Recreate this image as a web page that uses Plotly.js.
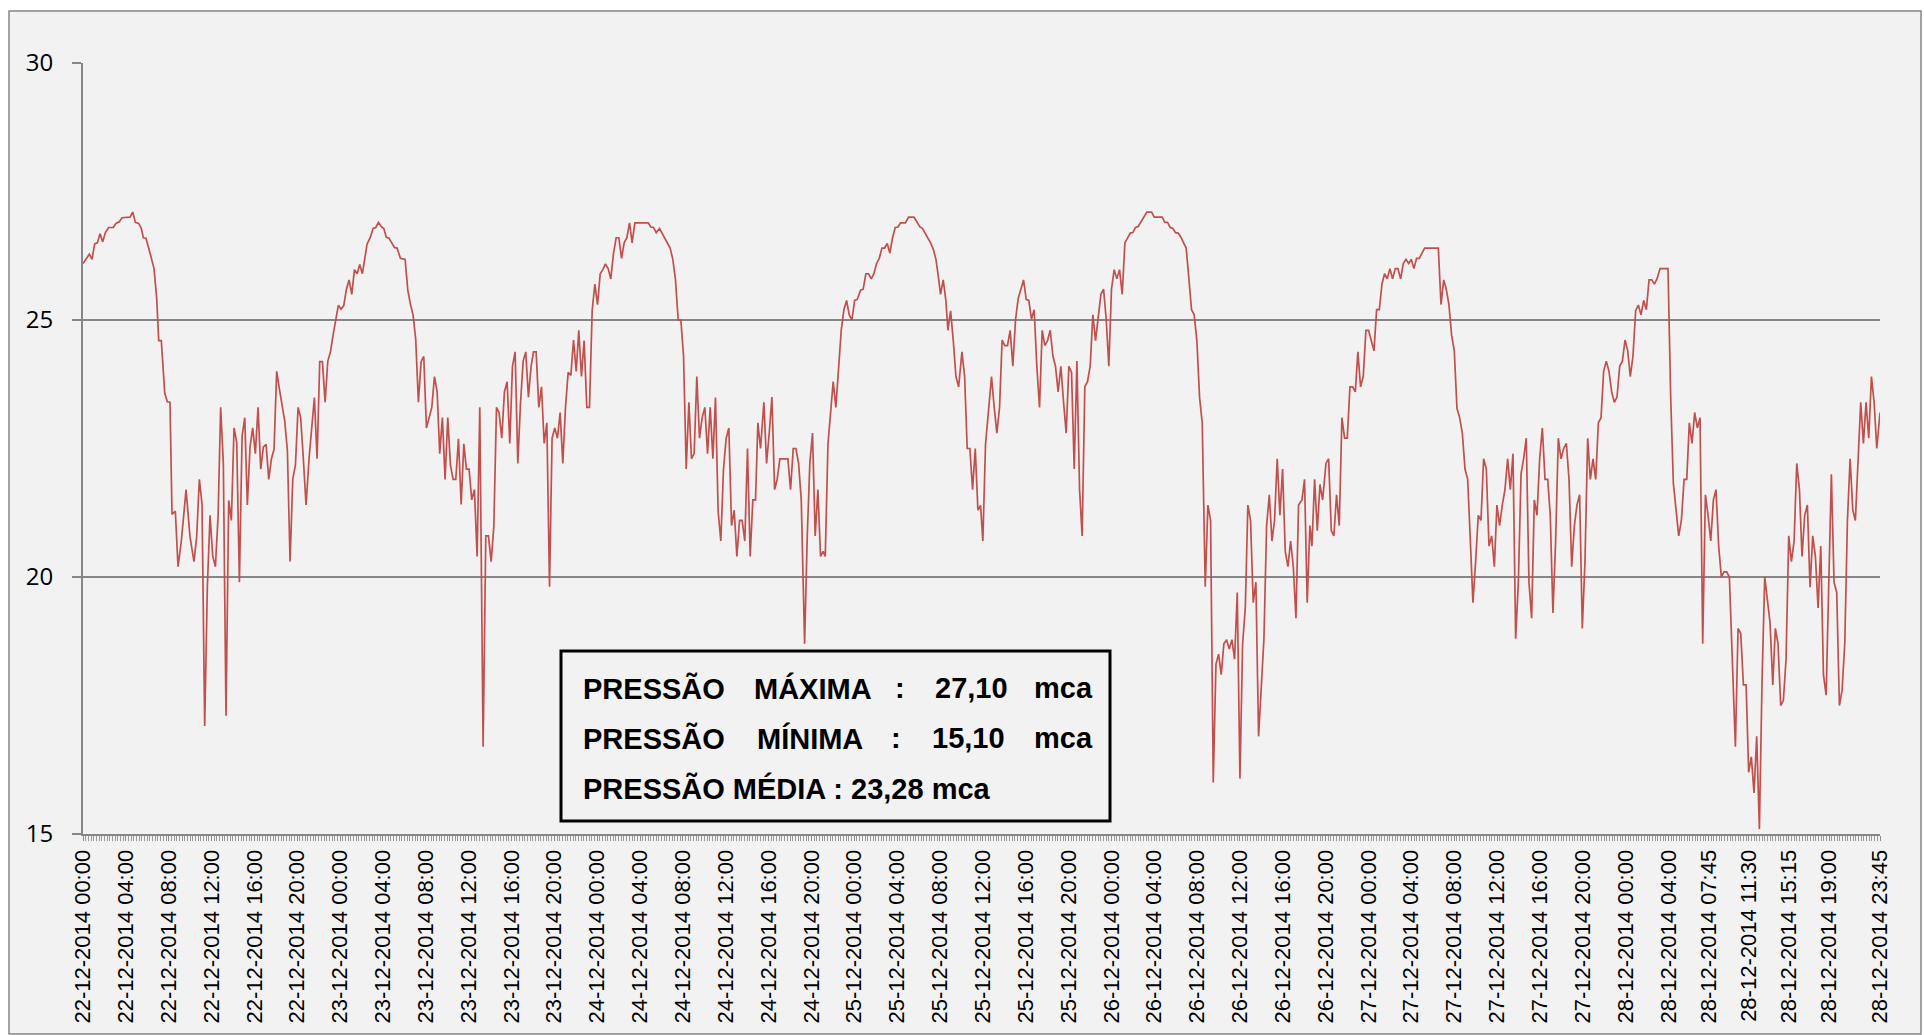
<!DOCTYPE html>
<html>
<head>
<meta charset="utf-8">
<script src="https://cdn.plot.ly/plotly-3.0.1.min.js"></script>
<style>
html,body{margin:0;padding:0;background:#ffffff;}
#chart{width:1924px;height:1035px;}
</style>
</head>
<body>
<div id="chart"></div>
<script>
// hours since 22-12-2014 00:00
const horas = [
0,0.59,0.84,1.09,1.34,1.59,1.84,2.09,2.40,2.83,3.08,3.39,3.64,4.39,4.64,4.89,5.20,5.45,5.63,5.88,
6.26,6.63,6.88,7.07,7.31,7.63,7.87,8.12,8.31,8.62,8.87,9.18,9.62,9.99,10.36,10.61,10.86,11.11,11.36,11.61,
11.86,12.11,12.36,12.61,12.85,13.10,13.35,13.60,13.85,14.10,14.35,14.60,14.85,15.10,15.34,15.59,15.84,16.09,16.34,16.59,
16.84,17.09,17.34,17.59,17.83,18.08,18.33,18.83,19.08,19.33,19.58,19.83,20.08,20.32,20.57,20.82,
21.10,21.35,21.60,21.85,22.10,22.35,22.60,22.85,23.10,23.34,23.59,23.84,24.09,24.34,24.59,24.84,25.09,25.34,25.59,25.83,
26.08,26.33,26.52,26.83,27.08,27.33,27.58,27.83,28.08,28.32,28.57,28.82,29.07,29.32,29.63,30.07,30.32,30.57,30.81,31.06,
31.31,31.56,31.81,32.06,32.31,32.56,32.81,33.06,33.30,33.55,33.80,34.05,34.30,34.55,34.80,35.05,35.30,35.55,35.79,36.04,
36.29,36.54,36.79,37.04,37.35,37.60,37.85,38.10,38.35,38.60,38.84,39.09,39.34,39.59,39.84,40.09,40.34,40.59,40.84,41.09,
41.33,41.58,41.83,
42.05,42.30,42.55,42.80,43.05,43.30,43.55,43.79,44.04,44.29,44.54,44.79,45.04,45.29,45.54,45.79,46.04,46.28,46.53,46.78,
47.03,47.28,47.53,47.78,48.03,48.28,48.53,48.77,49.02,49.27,49.52,49.77,50.02,50.27,50.52,50.77,51.02,51.26,51.51,52.76,
53.01,53.26,53.51,53.82,54.07,54.31,54.56,54.81,55.06,55.31,55.56,55.81,56.06,56.31,56.56,56.80,57.05,57.30,57.55,57.80,
58.05,58.30,58.55,58.80,59.04,59.29,59.54,59.79,60.04,60.29,60.54,60.79,61.04,61.29,61.53,61.78,62.03,62.28,62.53,62.78,
63.00,63.25,63.56,63.81,64.06,64.31,64.56,64.80,65.05,65.80,66.05,66.30,66.55,66.80,67.05,67.36,67.61,67.85,68.10,68.35,
68.60,68.85,69.10,69.29,69.54,69.78,70.03,70.28,70.53,70.78,71.03,71.28,71.53,71.78,72.03,72.27,72.59,72.83,73.08,73.33,
73.58,73.83,74.08,74.33,74.58,74.83,75.08,75.32,75.57,75.82,76.07,76.32,76.76,77.07,77.57,77.88,78.13,78.37,78.62,78.87,
79.12,79.37,79.62,79.81,80.05,80.30,80.55,80.74,80.99,81.24,81.49,81.74,82.05,82.30,82.54,82.79,83.04,83.29,83.54,83.79,
84.00,84.25,84.56,84.81,85.06,85.31,85.56,85.80,86.05,86.30,86.55,86.80,87.05,87.30,87.55,87.80,88.05,88.29,88.54,88.79,
89.04,89.29,89.54,89.79,90.04,90.29,90.54,90.78,91.03,91.28,91.53,91.78,92.03,92.28,92.53,92.78,93.03,93.27,93.52,93.77,
94.02,94.27,94.52,94.77,95.02,95.27,95.52,95.76,96.01,96.26,96.51,96.76,97.01,97.26,97.51,97.76,98.00,98.25,98.50,98.75,
99.00,99.31,99.75,100.00,100.74,100.99,101.24,101.49,101.74,101.99,102.24,102.49,102.74,102.98,103.23,103.48,103.73,103.98,104.23,104.48,
104.76,105.01,105.26,105.51,105.76,106.01,106.25,106.50,106.75,107.00,107.25,107.50,107.75,108.00,108.25,108.50,108.74,108.99,109.24,109.49,
109.74,109.99,110.24,110.49,110.74,110.99,111.23,111.48,111.73,111.98,112.23,112.48,112.73,112.98,113.23,113.47,113.79,114.03,114.28,114.53,
114.72,114.97,115.22,115.47,115.72,116.03,116.28,116.53,116.77,117.02,117.27,117.52,117.77,118.02,118.27,118.52,118.77,119.01,119.26,119.51,
119.76,120.01,120.26,120.51,120.76,121.01,121.26,121.50,121.75,122.00,122.25,122.50,122.75,123.00,123.25,123.50,123.75,123.99,124.24,124.49,
124.74,125.24,126.52,126.77,127.02,127.26,127.51,127.76,128.01,128.26,128.51,128.76,129.01,129.26,129.51,129.75,130.00,130.25,130.50,130.75,
131.00,131.25,131.50,131.75,131.99,132.24,132.49,132.74,132.99,133.24,133.49,133.74,133.99,134.24,134.48,134.73,134.98,135.23,135.48,135.73,
135.98,136.23,136.48,136.73,136.97,137.22,137.47,137.72,137.97,138.22,138.47,138.72,138.97,139.22,139.46,139.71,139.96,140.21,140.46,140.71,
140.96,141.21,141.46,141.71,141.95,142.20,142.45,142.70,142.95,143.20,143.45,143.70,143.95,144.20,144.44,144.69,144.94,145.19,145.44,145.69,
145.94,146.19,146.44,146.69,146.93,147.22,147.96,148.21,148.46,148.71,148.96,149.21,149.46,149.71,149.95,150.20,150.45,150.70,150.95,151.20,
151.45,151.70,151.95,152.20,152.44,152.69,152.94,153.19,153.44,153.69,153.94,154.25,154.50,154.75,155.00,155.25,155.49,155.74,155.99,156.24,
156.49,156.74,156.99,157.24,157.49,157.74,157.98,158.23,158.48,158.73,158.98,159.23,159.48,159.73,159.98,160.23,160.47,160.72,160.97,161.22,
161.47,161.72,161.97,162.22,162.47,162.72,162.96,163.21,163.46,163.71,163.96,164.21,164.46,164.71,164.96,165.21,165.45,165.70,165.95,166.20,
166.45,166.70,166.95,167.20,167.45,167.75
];

// pressure in mca
const pressao = [
26.1,26.28,26.18,26.48,26.5,26.68,26.52,26.7,26.8,26.8,26.88,26.91,26.99,27.0,27.1,26.9,26.88,26.78,26.6,26.59,
26.3,26.0,25.42,24.6,24.6,23.58,23.41,23.4,21.22,21.28,20.2,20.7,21.7,20.78,20.3,20.78,21.9,21.42,17.1,19.82,
21.2,20.4,20.2,21.18,23.3,22.22,17.3,21.49,21.1,22.9,22.62,19.9,22.74,23.1,21.4,22.53,22.9,22.4,23.3,22.1,
22.53,22.58,21.9,22.3,22.48,24.0,23.66,23.04,22.46,20.3,21.9,22.18,23.3,23.1,22.3,21.4,
22.3,22.94,23.49,22.3,24.19,24.19,23.4,24.2,24.38,24.7,25.01,25.29,25.21,25.28,25.6,25.78,25.5,25.98,25.9,26.08,
25.9,26.29,26.48,26.61,26.78,26.8,26.9,26.82,26.78,26.61,26.59,26.5,26.41,26.4,26.2,26.18,25.58,25.3,25.1,24.62,
23.4,24.19,24.29,22.9,23.1,23.3,23.9,23.6,22.4,23.1,21.9,23.1,22.18,21.9,21.9,22.69,21.41,22.59,22.1,22.1,
21.5,21.7,20.4,23.3,16.7,20.8,20.8,20.3,20.98,23.3,23.2,22.7,23.6,23.8,22.6,24.1,24.38,22.21,23.38,24.2,
24.38,23.5,24.1,
24.38,24.38,23.3,23.7,22.6,23.0,19.81,22.7,22.9,22.7,23.2,22.21,23.3,23.98,23.92,24.61,24.0,24.8,23.9,24.6,
23.3,23.3,25.18,25.7,25.3,25.9,25.98,26.09,26.0,25.8,26.29,26.6,26.6,26.2,26.5,26.6,26.89,26.5,26.89,26.89,
26.81,26.8,26.7,26.78,26.69,26.6,26.5,26.4,26.18,25.78,25.0,25.0,24.3,22.1,23.4,22.3,22.4,23.9,22.7,23.1,
23.3,22.4,23.3,22.3,23.49,21.28,20.7,22.1,22.7,22.9,21.0,21.3,20.4,21.1,21.1,20.7,22.5,20.4,21.5,21.5,
23.0,22.5,23.4,22.21,22.8,23.5,21.7,21.9,22.3,22.3,21.7,22.5,22.5,22.21,21.5,18.7,20.8,22.21,22.8,20.8,
21.7,20.4,20.5,20.4,22.58,23.2,23.8,23.3,24.1,24.8,25.2,25.38,25.1,25.0,25.38,25.4,25.58,25.6,25.9,25.9,
25.8,25.9,26.1,26.2,26.4,26.4,26.49,26.3,26.6,26.8,26.81,26.89,26.89,27.0,27.0,26.89,26.81,26.78,26.69,26.6,
26.5,26.38,26.18,25.9,25.5,25.78,25.38,24.8,25.18,24.6,23.9,23.7,24.38,23.9,22.5,22.5,21.7,22.5,21.3,21.39,
20.7,22.58,23.3,23.9,23.3,22.8,23.3,24.61,24.5,24.5,24.8,24.1,25.0,25.42,25.6,25.78,25.4,25.38,25.02,25.2,
24.1,23.3,24.8,24.5,24.6,24.8,24.3,24.1,23.6,24.1,23.42,22.8,24.1,23.98,22.1,24.2,21.7,20.8,23.7,23.8,
24.1,25.1,24.6,25.0,25.5,25.6,25.0,24.1,25.6,25.98,25.8,25.98,25.5,26.5,26.6,26.69,26.7,26.8,26.82,26.9,
26.99,27.1,27.1,27.0,27.0,26.9,26.9,26.8,26.78,26.7,26.69,26.61,26.5,26.4,25.82,25.2,25.1,24.6,23.5,23.0,
19.81,21.4,21.1,16.0,18.3,18.5,18.1,18.7,18.78,18.6,18.78,18.4,19.7,16.08,18.7,19.4,21.4,21.1,19.5,19.9,
16.9,18.0,18.8,21.0,21.6,20.7,21.1,22.3,21.2,22.1,20.5,20.2,20.7,20.2,19.2,21.4,21.5,21.9,19.5,21.0,
20.6,21.9,20.9,21.8,21.5,22.21,22.3,20.9,20.8,21.6,21.0,23.1,22.7,22.7,23.7,23.7,23.6,24.38,23.7,23.9,
24.8,24.8,24.6,24.4,25.2,25.2,25.7,25.9,25.8,26.0,25.8,26.0,26.0,25.8,26.1,26.18,26.1,26.18,26.0,26.2,
26.2,26.4,26.4,25.3,25.78,25.6,25.3,24.7,24.4,23.28,23.1,22.8,22.1,21.9,20.7,19.5,20.3,21.2,21.1,22.3,
22.1,20.6,20.8,20.2,21.4,21.0,21.4,21.7,22.3,21.7,22.4,18.8,19.9,22.0,22.3,22.7,19.9,19.2,21.5,21.2,
22.3,22.9,21.9,21.9,21.2,19.3,20.7,22.7,22.3,22.5,22.6,21.9,20.2,21.0,21.4,21.6,19.0,20.3,22.7,21.9,
22.3,21.9,23.0,23.1,24.0,24.2,24.0,23.6,23.4,23.5,24.1,24.2,24.61,24.4,23.9,24.3,25.18,25.29,25.1,25.38,
25.2,25.78,25.78,25.7,25.8,26.0,26.0,23.5,21.82,21.3,20.8,21.1,21.9,21.9,23.0,22.6,23.2,22.9,23.1,18.7,
21.6,21.2,20.7,21.5,21.7,20.6,20.0,20.1,20.1,20.0,18.4,16.7,19.0,18.9,17.9,17.9,16.2,16.5,15.8,16.9,
15.1,18.0,20.0,19.5,19.1,17.9,19.0,18.7,17.5,17.6,18.4,20.8,20.3,20.7,22.21,21.7,20.4,21.2,21.4,19.8,
20.8,20.4,19.4,20.6,18.1,17.7,19.82,22.0,19.9,19.7,17.5,17.8,18.7,21.1,22.3,21.3,21.1,22.4,23.4,22.6,
23.4,22.7,23.9,23.4,22.5,23.2
];

const tickHoras = [0,4,8,12,16,20,24,28,32,36,40,44,48,52,56,60,64,68,72,76,80,84,88,92,96,100,104,108,112,116,120,124,128,132,136,140,144,148,151.75,155.5,159.25,163,167.75];
const tickRotulos = [
"22-12-2014 00:00","22-12-2014 04:00","22-12-2014 08:00","22-12-2014 12:00","22-12-2014 16:00","22-12-2014 20:00",
"23-12-2014 00:00","23-12-2014 04:00","23-12-2014 08:00","23-12-2014 12:00","23-12-2014 16:00","23-12-2014 20:00",
"24-12-2014 00:00","24-12-2014 04:00","24-12-2014 08:00","24-12-2014 12:00","24-12-2014 16:00","24-12-2014 20:00",
"25-12-2014 00:00","25-12-2014 04:00","25-12-2014 08:00","25-12-2014 12:00","25-12-2014 16:00","25-12-2014 20:00",
"26-12-2014 00:00","26-12-2014 04:00","26-12-2014 08:00","26-12-2014 12:00","26-12-2014 16:00","26-12-2014 20:00",
"27-12-2014 00:00","27-12-2014 04:00","27-12-2014 08:00","27-12-2014 12:00","27-12-2014 16:00","27-12-2014 20:00",
"28-12-2014 00:00","28-12-2014 04:00","28-12-2014 07:45","28-12-2014 11:30","28-12-2014 15:15","28-12-2014 19:00","28-12-2014 23:45"
];
const yTicks = [15,20,25,30];

const rotuloPressao = "PRESSÃO";
const rotulosResumo = ["MÁXIMA","MÍNIMA","MÉDIA"];
const valoresResumo = ["27,10","15,10","23,28"];
const unidade = "mca";

// geometry helpers (pixel -> paper)
const L = 83, R = 1880, T = 63, B = 834;
const px = x => (x - L) / (R - L);
const py = y => (B - y) / (B - T);

const boldFont = {family: "Liberation Sans, Arial, sans-serif", size: 29, color: "#000", weight: "bold"};
function ann(text, x, y, anchor) {
  return {text: "<b>" + text + "</b>", xref: "paper", yref: "paper", x: px(x), y: py(y),
          xanchor: anchor || "left", yanchor: "middle", showarrow: false,
          font: boldFont, align: "left"};
}
const y1 = 688, y2 = 738, y3 = 788;
const annotations = [
  ann(rotuloPressao, 581, y1), ann(rotulosResumo[0], 752, y1), ann(":", 900, y1, "center"),
  ann(valoresResumo[0], 933, y1), ann(unidade, 1032, y1),
  ann(rotuloPressao, 581, y2), ann(rotulosResumo[1], 755, y2), ann(":", 896, y2, "center"),
  ann(valoresResumo[1], 930, y2), ann(unidade, 1032, y2),
  ann(rotuloPressao + " " + rotulosResumo[2] + " : " + valoresResumo[2] + " " + unidade, 581, y3)
];

const trace = {
  x: horas, y: pressao, type: "scatter", mode: "lines",
  line: {color: "#C0504D", width: 1.7}, hoverinfo: "skip"
};

const layout = {
  width: 1924, height: 1035,
  margin: {l: L, r: 1924 - R, t: T, b: 1035 - B, pad: 0},
  paper_bgcolor: "#ffffff",
  plot_bgcolor: "rgba(0,0,0,0)",
  showlegend: false,
  xaxis: {
    type: "linear", range: [0, 167.75], fixedrange: true,
    tickmode: "array", tickvals: tickHoras, ticktext: tickRotulos,
    tickangle: -90,
    tickfont: {family: "Liberation Sans, Arial, sans-serif", size: 22, color: "#000"},
    ticks: "outside", ticklen: 5, tickcolor: "#8c8c8c", tickwidth: 1,
    showgrid: false, zeroline: false,
    showline: true, linecolor: "#868686", linewidth: 2,
    minor: {tickmode: "linear", tick0: 0, dtick: 0.25, ticks: "outside", ticklen: 5,
            tickcolor: "#9a9a9a", tickwidth: 1, showgrid: false}
  },
  yaxis: {
    range: [15, 30], fixedrange: true,
    tickmode: "array", tickvals: yTicks,
    tickfont: {family: "Open Sans, sans-serif", size: 24, color: "#000"},
    ticks: "outside", ticklen: 9, tickcolor: "#868686", tickwidth: 1.5,
    ticklabelstandoff: 14,
    showgrid: true, gridcolor: "#868686", gridwidth: 1.4,
    zeroline: false, showline: true, linecolor: "#868686", linewidth: 2
  },
  shapes: [
    {type: "rect", xref: "paper", yref: "paper", layer: "below",
     x0: px(9), x1: px(1921), y0: py(1034), y1: py(11),
     fillcolor: "#f2f2f2", line: {color: "#868686", width: 1.5}},
    {type: "rect", xref: "paper", yref: "paper", layer: "above",
     x0: px(561), x1: px(1110), y0: py(821), y1: py(651),
     fillcolor: "#f2f2f2", line: {color: "#000", width: 3}}
  ],
  annotations: annotations
};

Plotly.newPlot("chart", [trace], layout, {staticPlot: true, displayModeBar: false});
</script>
</body>
</html>
